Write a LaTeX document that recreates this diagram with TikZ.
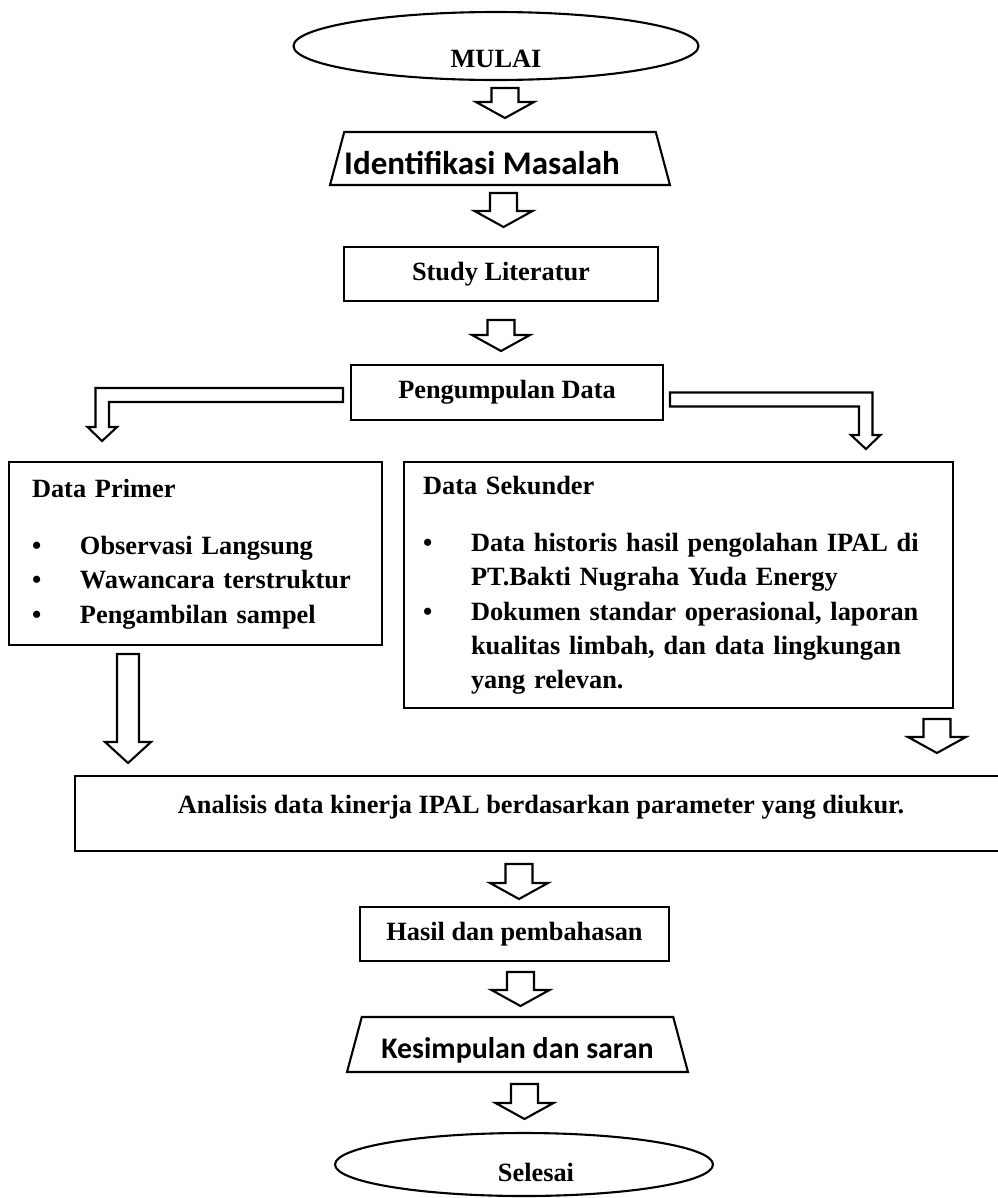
\documentclass[tikz,border=0pt]{standalone}
\usepackage{fontspec}
\setmainfont{Liberation Serif}
\newfontfamily\calfont{Carlito}
\usetikzlibrary{shapes.geometric,calc}

\newcommand{\stemw}{13.5}
\newcommand{\headw}{29}
\newcommand{\headl}{16}
% hollow block arrow pointing down: start point, length
\newcommand{\blockdown}[2]{%
  \path (#1) coordinate (bt) ++(0,#2) coordinate (bp);
  \draw ($(bt)+(-\stemw,0)$) -- ($(bp)+(-\stemw,-\headl)$) -- ++({\stemw-\headw},0) -- (bp)
    -- ($(bp)+(\headw,-\headl)$) -- ++({\stemw-\headw},0) -- ($(bt)+(\stemw,0)$) -- cycle;}
% hollow bent arrow: start point, tip, side (-1 left, 1 right)
\newcommand{\blockbent}[3]{%
  \path (#1) coordinate (bs) (#2) coordinate (be);
  \draw ($(bs)+(0,-7)$) -| ($(be)+({(#3)*6.5},-14)$) -- ++({(#3)*8},0) -- (be)
    -- ++({-(#3)*15},-14) -- ++({(#3)*8},0) |- ($(bs)+(0,7)$) -- cycle;}

\begin{document}
\begin{tikzpicture}[x=0.02cm,y=-0.02cm,inner sep=0pt,outer sep=0pt,very thick,
font=\fontsize{15}{19.6}\selectfont\bfseries,
terminal/.style={draw,ellipse,text depth=0pt},
processbox/.style={draw,rectangle,minimum height=1.08cm},
iobox/.style={draw,trapezium,trapezium left angle=75,trapezium right angle=75,
  trapezium stretches body,font=\calfont\fontsize{17}{20}\selectfont\bfseries},
listbox/.style={draw,rectangle,align=left,inner ysep=0pt}]
\useasboundingbox (0,0) rectangle (998,1198);
\draw (496,46) node[terminal,minimum width=8.1cm,minimum height=1.36cm,text height=0.84cm] (mulai) {MULAI};
\draw (500,158.5) node[iobox,minimum width=6.8cm,text height=0.84cm,text depth=0.22cm,
  font=\calfont\fontsize{18.8}{22}\selectfont\bfseries] (ident) {\hspace*{-0.72cm}Identifikasi Masalah};
\draw (501,274) node[processbox,minimum width=6.28cm] (study) {Study Literatur};
\draw (507,392.5) node[processbox,minimum width=6.24cm,minimum height=1.1cm] (kumpul) {Pengumpulan Data};
\draw (195.5,553.5) node[listbox,inner xsep=0.46cm,text width=6.54cm,minimum height=3.66cm] (primer) {%
\begin{tabular}{@{}l@{}l@{}}
\multicolumn{2}{@{}l@{}}{Data Primer}\\[12.5pt]
\makebox[0.96cm][l]{\textbullet} & Observasi Langsung\\
\makebox[0.96cm][l]{\textbullet} & Wawancara terstruktur\\
\makebox[0.96cm][l]{\textbullet} & Pengambilan sampel
\end{tabular}};
\draw (678.5,585) node[listbox,inner xsep=0.38cm,text width=10.22cm,minimum height=4.92cm] (sekunder) {%
\begin{tabular}{@{}l@{}l@{}}
\multicolumn{2}{@{}l@{}}{Data Sekunder}\\[12.5pt]
\makebox[0.96cm][l]{\textbullet} & Data historis hasil pengolahan IPAL di\\
 & PT.Bakti Nugraha Yuda Energy\\
\makebox[0.96cm][l]{\textbullet} & Dokumen standar operasional, laporan\\
 & kualitas limbah, dan data lingkungan\\
 & yang relevan.
\end{tabular}};
\draw (541,813.5) node[processbox,minimum width=18.64cm,minimum height=1.5cm,text height=0.3cm,text depth=0.3cm] (analisis) {Analisis data kinerja IPAL berdasarkan parameter yang diukur.};
\draw (514.5,934) node[processbox,minimum width=6.18cm] (hasil) {Hasil dan pembahasan};
\draw (517.5,1044.5) node[iobox,minimum width=6.82cm,text height=0.82cm,text depth=0.28cm] (simpul) {Kesimpulan dan saran};
\draw (524,1164.5) node[terminal,minimum width=7.56cm,minimum height=1.26cm,text height=0.66cm] (selesai) {\hspace*{0.48cm}Selesai};
\blockdown{$(mulai.south)+(9,8)$}{30}
\blockdown{$(ident.south)+(3.5,8)$}{34}
\blockdown{$(study.south)+(0,19)$}{31}
\blockbent{$(kumpul.west)+(-8,2.5)$}{$(primer.north west)+(93,-21)$}{-1}
\blockbent{$(kumpul.east)+(7,7)$}{$(sekunder.north east)+(-87,-13)$}{1}
{\renewcommand{\stemw}{11}\renewcommand{\headw}{23}\renewcommand{\headl}{21}%
\blockdown{$(primer.south west)+(119,9)$}{109}}
\blockdown{$(sekunder.south east)+(-16,11)$}{34}
\blockdown{$(analisis.south)+(-22,13)$}{35}
\blockdown{$(hasil.south)+(6,11)$}{34}
\blockdown{$(simpul.south)+(7,12)$}{35}
\end{tikzpicture}
\end{document}
